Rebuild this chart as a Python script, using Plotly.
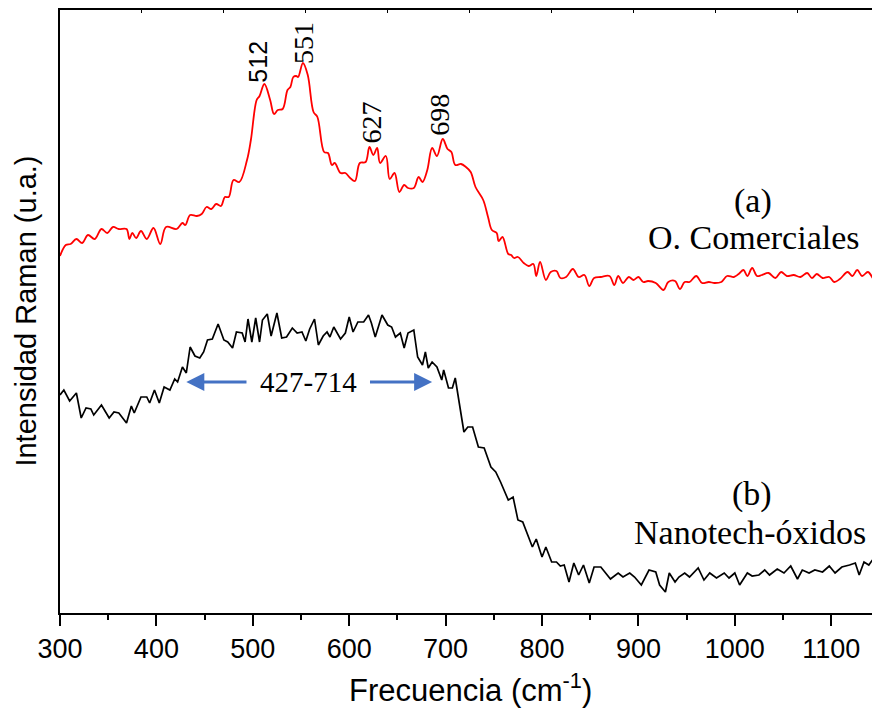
import plotly.graph_objects as go

# ---- data ----
freq_a = [300, 306, 311, 317, 323, 329, 336, 343, 349, 355, 361, 369, 372, 375, 379, 384, 390, 397, 404, 410,
          421, 427, 430, 435, 442, 447, 452, 457, 462, 467, 471, 475, 480, 486, 494, 498, 504, 507, 512, 518,
          522, 526, 531, 536, 539, 542, 545, 547, 552, 557, 563, 567, 574, 578, 582, 585, 591, 596, 601, 606,
          611, 617, 621, 625, 629, 632, 638, 642, 647, 652, 657, 661, 667, 672, 676, 681, 686, 691, 697, 702,
          706, 710, 716, 721, 726, 731, 739, 744, 748, 753, 755, 759, 765, 768, 771, 775, 781, 786, 791, 794,
          798, 804, 809, 815, 819, 825, 832, 838, 844, 849, 854, 861, 870, 875, 879, 884, 890, 895, 900, 905,
          910, 918, 926, 931, 938, 943, 948, 953, 960, 966, 973, 979, 986, 992, 999, 1004, 1009, 1013, 1018, 1023,
          1028, 1035, 1042, 1048, 1054, 1061, 1068, 1075, 1080, 1085, 1091, 1098, 1103, 1109, 1117, 1122, 1127,
          1132, 1138, 1143, 1145]
int_a = [357, 368, 369, 374, 370, 378, 374, 384, 380, 386, 384, 384, 374, 380, 375, 382, 374, 385, 369, 386,
         384, 390, 388, 398, 397, 399, 406, 404, 409, 407, 416, 416, 433, 431, 453, 473, 513, 517, 529, 513,
         499, 503, 504, 523, 526, 536, 537, 536, 550, 538, 501, 496, 461, 460, 448, 450, 440, 440, 435, 432,
         450, 451, 466, 458, 465, 450, 457, 434, 440, 421, 428, 425, 425, 436, 431, 443, 465, 457, 474, 464,
         461, 448, 449, 446, 441, 426, 413, 396, 383, 380, 372, 376, 359, 358, 355, 356, 350, 347, 349, 337,
         351, 333, 341, 342, 335, 336, 344, 336, 338, 327, 335, 336, 337, 328, 337, 330, 336, 333, 336, 331,
         332, 330, 323, 331, 332, 324, 331, 331, 337, 330, 331, 330, 331, 337, 336, 339, 343, 337, 345, 337,
         338, 340, 335, 341, 337, 338, 336, 340, 335, 339, 335, 336, 331, 334, 341, 337, 343,
         337, 341, 335, 331]

freq_b = [300, 304, 310, 317, 322, 327, 332, 335, 343, 351, 356, 361, 369, 374, 377, 384, 390, 393, 398, 403,
          408, 414, 419, 422, 427, 431, 435, 440, 445, 449, 453, 458, 464, 470, 474, 479, 483, 489, 492, 495,
          499, 503, 507, 510, 515, 519, 525, 530, 535, 541, 546, 551, 555, 559, 564, 568, 573, 577, 580, 584,
          591, 596, 600, 604, 609, 615, 620, 623, 627, 634, 640, 644, 648, 653, 657, 661, 667, 671, 676, 679,
          682, 686, 691, 696, 698, 703, 707, 710, 719, 723, 728, 734, 740, 747, 752, 757, 765, 770, 775, 780,
          790, 794, 800, 804, 810, 815, 819, 823, 828, 833, 838, 843, 849, 854, 861, 866, 871, 879, 884, 891,
          896, 903, 911, 918, 922, 928, 932, 938, 942, 948, 953, 962, 968, 974, 981, 989, 994, 1000, 1005, 1013,
          1018, 1025, 1031, 1036, 1044, 1051, 1058, 1065, 1070, 1077, 1083, 1091, 1098, 1104, 1111, 1119, 1125,
          1129, 1134, 1139, 1145]
int_b = [218, 223, 212, 220, 195, 205, 204, 198, 208, 195, 201, 200, 190, 207, 200, 216, 216, 210, 223, 210,
         226, 223, 234, 231, 246, 240, 266, 257, 255, 261, 273, 274, 289, 273, 271, 265, 281, 280, 271, 294,
         271, 295, 271, 293, 299, 277, 300, 275, 276, 285, 280, 281, 272, 284, 294, 268, 277, 281, 276, 286,
         274, 280, 296, 281, 291, 291, 298, 290, 276, 298, 288, 286, 276, 280, 265, 280, 283, 256, 248, 261,
         245, 251, 246, 233, 243, 225, 225, 235, 181, 186, 186, 166, 165, 146, 141, 131, 113, 116, 93, 91,
         66, 74, 56, 66, 51, 51, 47, 48, 31, 50, 38, 48, 30, 46, 46, 40, 34, 40, 36, 40,
         36, 28, 43, 41, 28, 21, 40, 31, 36, 40, 36, 45, 33, 40, 35, 40, 35, 40, 28, 40,
         37, 38, 43, 38, 44, 40, 47, 34, 43, 40, 43, 41, 47, 40, 46, 48, 50,
         38, 51, 48, 56]

peak_labels = ["512", "551", "627", "698"]
x_ticks = [300, 400, 500, 600, 700, 800, 900, 1000, 1100]

fig = go.Figure()
fig.add_trace(go.Scatter(x=freq_a, y=int_a, mode="lines", line=dict(color="#ff0000", width=1.8),
                         line_shape="spline", showlegend=False, hoverinfo="skip"))
fig.add_trace(go.Scatter(x=freq_b, y=int_b, mode="lines", line=dict(color="#000000", width=1.7),
                         showlegend=False, hoverinfo="skip"))
# invisible trace to host the top frame axis
fig.add_trace(go.Scatter(x=[0], y=[0], xaxis="x2", mode="markers", marker=dict(opacity=0),
                         showlegend=False, hoverinfo="skip"))

serif = "Liberation Serif"
sans = "Liberation Sans"

# peak labels (rotated)
label_xy = [(505, 551), (552, 570), (623, 491), (693, 498)]
for lab, (lx, ly) in zip(peak_labels, label_xy):
    if lab == "512":
        fnt = dict(family=sans, size=25, color="black")
    else:
        fnt = dict(family=serif, size=28, color="black")
    fig.add_annotation(x=lx, y=ly, text=lab, showarrow=False, textangle=-90, font=fnt,
                       xanchor="center", yanchor="middle")

fig.add_annotation(x=1019, y=412, text="(a)", showarrow=False,
                   font=dict(family=serif, size=34, color="black"))
fig.add_annotation(x=1020, y=376, text="O. Comerciales", showarrow=False,
                   font=dict(family=serif, size=34, color="black"))
fig.add_annotation(x=1018, y=119, text="(b)", showarrow=False,
                   font=dict(family=serif, size=34, color="black"))
fig.add_annotation(x=1016, y=81, text="Nanotech-óxidos", showarrow=False,
                   font=dict(family=serif, size=34, color="black"))
fig.add_annotation(x=558, y=231, text="427-714", showarrow=False,
                   font=dict(family=serif, size=29, color="black"))

# arrows
arrow = dict(showarrow=True, arrowhead=2, arrowsize=1.2, arrowwidth=3, arrowcolor="#4472C4",
             text="", axref="x", ayref="y", standoff=0, startstandoff=0)
fig.add_annotation(x=431, y=231, ax=495, ay=231, **arrow)
fig.add_annotation(x=686, y=231, ax=620, ay=231, **arrow)

# axis titles
fig.add_annotation(xref="paper", yref="paper", x=-0.043, y=0.5, text="Intensidad Raman (u.a.)",
                   textangle=-90, showarrow=False, xanchor="center", yanchor="middle",
                   font=dict(family=sans, size=29, color="black"))
fig.add_annotation(xref="paper", yref="paper", x=0.506, y=-0.124, text="Frecuencia (cm<sup>-1</sup>)",
                   showarrow=False, xanchor="center", yanchor="middle",
                   font=dict(family=sans, size=31, color="black"))

fig.update_layout(
    width=872, height=711,
    margin=dict(l=60, r=0, t=10, b=98),
    paper_bgcolor="white", plot_bgcolor="white",
    xaxis=dict(range=[300, 1142.3], tickvals=x_ticks, ticktext=[str(v) for v in x_ticks],
               ticks="outside", ticklen=11, tickwidth=2, tickcolor="black",
               minor=dict(ticks="outside", ticklen=5, tickwidth=2, tickcolor="black", dtick=50, tick0=300),
               showline=True, linewidth=2, linecolor="black", showgrid=False, zeroline=False,
               tickfont=dict(family=sans, size=27, color="black")),
    xaxis2=dict(overlaying="x", side="top", range=[0, 9.915], dtick=1, tick0=0,
                ticks="inside", ticklen=3, tickwidth=1, tickcolor="black",
                showline=True, linewidth=2, linecolor="black", showticklabels=False,
                showgrid=False, zeroline=False),
    yaxis=dict(range=[0, 603], showline=True, linewidth=2, linecolor="black",
               showticklabels=False, ticks="", showgrid=False, zeroline=False),
)

fig.write_html("out.html")
